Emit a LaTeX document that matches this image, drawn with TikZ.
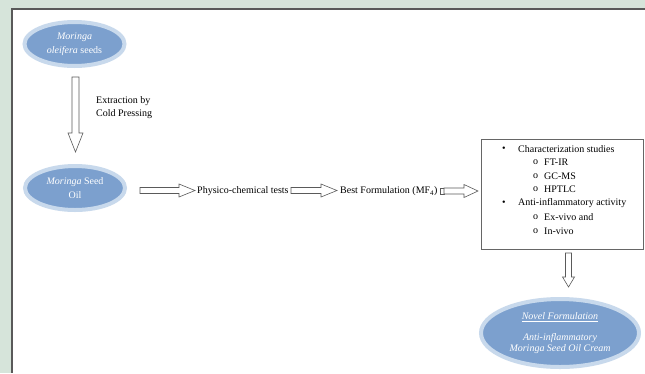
\documentclass[tikz,border=0pt]{standalone}
\usepackage{fontspec}
\setmainfont{Liberation Serif}
\usetikzlibrary{calc,shapes.geometric}

\definecolor{bgpanel}{RGB}{214,228,218}
\definecolor{seedblue}{RGB}{124,160,206}
\definecolor{seedglow}{RGB}{200,217,236}
\definecolor{arrowgray}{RGB}{90,90,90}

\tikzset{
  seedell/.style = {ellipse, fill=seedblue, draw=seedglow, line width=4pt,
    text=white, align=center, font=\fontsize{10}{14}\selectfont},
  blockarrow/.style = {draw=arrowgray, line width=0.6pt, fill=white, line join=miter},
  plaintext/.style = {anchor=west, inner sep=0pt, font=\fontsize{10}{13}\selectfont}
}

% hollow block arrow: from, to, shaft half width, head half width, head length
\newcommand{\hollowarrow}[5]{%
  \coordinate (hb) at ($(#2)!#5pt!(#1)$);
  \draw [blockarrow] ($(#1)!#3pt!90:(#2)$) -- ($(hb)!#3pt!90:(#2)$)
    -- ($(hb)!#4pt!90:(#2)$) -- (#2) -- ($(hb)!#4pt!-90:(#2)$)
    -- ($(hb)!#3pt!-90:(#2)$) -- ($(#1)!#3pt!-90:(#2)$) -- cycle;
}

\begin{document}
\begin{tikzpicture}[x=1pt, y=-1pt]
\useasboundingbox (0,0) rectangle (645,373);
\fill [bgpanel] (0,0) rectangle (645,373);
\fill [white] (12,9) rectangle (645,373);
\draw [line width=2pt, gray!70!black] (645,9) -- (12,9) -- (12,373);

% ellipses
\node [seedell, minimum width=100, minimum height=44] (seeds) at (74.5,44)
  {\textit{Moringa}\\\textit{oleifera} seeds};
\node [seedell, minimum width=100, minimum height=44] (oil) at (75,188)
  {\textit{Moringa} Seed\\Oil};
\node [seedell, minimum width=158, minimum height=68, font=\fontsize{10}{11}\selectfont\itshape] (cream) at (560,333)
  {\underline{Novel Formulation}\\[10pt]Anti-inflammatory\\Moringa Seed Oil Cream};

% labels
\node [plaintext, align=left] (extract) at (96,107.5) {Extraction by\\Cold Pressing};
\node [plaintext] (physico) at (197,191.5) {Physico-chemical tests};
\node [plaintext] (best) at (340,191.5) {Best Formulation (MF\textsubscript{4})};

% studies box
\node [draw=gray!80!black, line width=0.7pt, minimum width=162, minimum height=110, inner sep=0pt] (box) at (562,194) {};
\node [plaintext] (b1) at (502,149) {\textbullet};
\node [plaintext] (t1) at (518,149) {Characterization studies};
\node [plaintext] (c1) at (533,162.5) {o};
\node [plaintext] (t2) at (544,162.5) {FT-IR};
\node [plaintext] (c2) at (533,176) {o};
\node [plaintext] (t3) at (544,176) {GC-MS};
\node [plaintext] (c3) at (533,189.5) {o};
\node [plaintext] (t4) at (544,189.5) {HPTLC};
\node [plaintext] (b2) at (502,203.5) {\textbullet};
\node [plaintext] (t5) at (518,203.5) {Anti-inflammatory activity};
\node [plaintext] (c4) at (533,217) {o};
\node [plaintext] (t6) at (544,217) {Ex-vivo and};
\node [plaintext] (c5) at (533,231) {o};
\node [plaintext] (t7) at (544,231) {In-vivo};

% arrows
\coordinate (a1s) at (75.5,77);
\coordinate (a1e) at (75.5,152);
\hollowarrow{a1s}{a1e}{3.5}{7.5}{19}
\coordinate (a2s) at (140,190.5);
\coordinate (a2e) at (195,190.5);
\hollowarrow{a2s}{a2e}{3}{6.5}{16}
\coordinate (a3s) at (291,190.5);
\coordinate (a3e) at (337,190.5);
\hollowarrow{a3s}{a3e}{3}{6.5}{16}
\draw [blockarrow] (440,188) rectangle (444,194);
\coordinate (a4s) at (444,191);
\coordinate (a4e) at (478,191);
\hollowarrow{a4s}{a4e}{3}{6.5}{14}
\coordinate (a5s) at (568.5,253);
\coordinate (a5e) at (568.5,287);
\hollowarrow{a5s}{a5e}{3}{6}{10}
\end{tikzpicture}
\end{document}
